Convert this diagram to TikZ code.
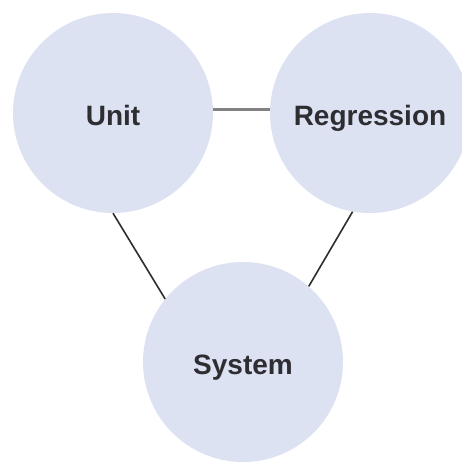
\documentclass[tikz,border=0pt]{standalone}
\usepackage{fontspec}
\setmainfont{Liberation Sans}
\usepackage{tikz}
\definecolor{bubble}{RGB}{221,226,242}
\definecolor{labeltext}{RGB}{45,45,50}
\definecolor{linkgray}{RGB}{130,130,130}
\definecolor{linkdark}{RGB}{45,45,45}

\begin{document}
\begin{tikzpicture}[x=1pt, y=-1pt,
	bubble/.style={circle, fill=bubble, draw=none, minimum size=200pt, inner sep=0pt,
		text height=27pt, text depth=3pt,
		text=labeltext, font=\fontsize{28}{30}\selectfont\bfseries},
	thicklink/.style={linkgray, line width=3pt},
	thinlink/.style={linkdark, line width=1.6pt}]
	\useasboundingbox (0,0) rectangle (461,463);
	\node[bubble] (unit) at (113,113) {Unit};
	\node[bubble] (regression) at (370,113) {Regression};
	\node[bubble] (system) at (243,362) {System};
	\draw[thicklink] (unit.2) -- (regression.178);
	\draw[thinlink] (unit.south) -- (system.141);
	\draw[thinlink] (regression.-100) -- (system.49);
\end{tikzpicture}
\end{document}
